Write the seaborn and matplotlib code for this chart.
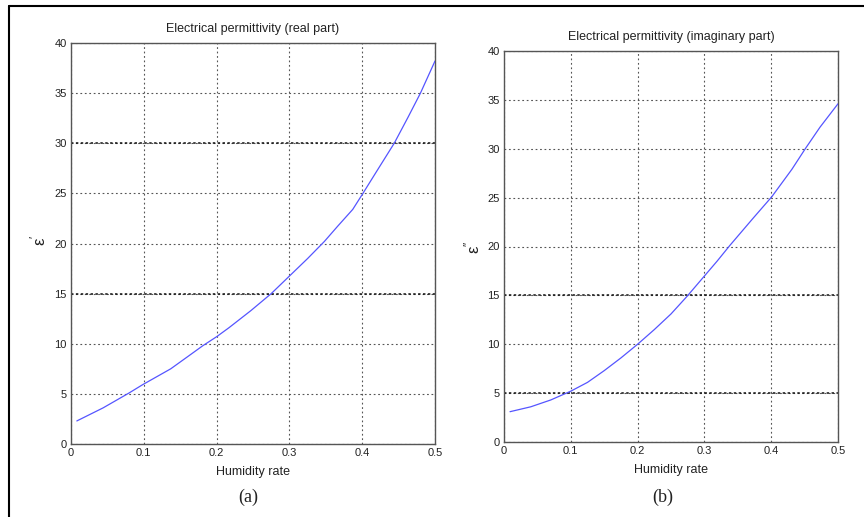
import matplotlib
matplotlib.use("Agg")
import matplotlib.pyplot as plt
import seaborn as sns
import pandas as pd
from matplotlib.lines import Line2D

# ---- data ----
real_x = [0.008, 0.044, 0.080, 0.098, 0.137, 0.160, 0.181, 0.200, 0.217, 0.247, 0.275,
          0.300, 0.325, 0.348, 0.366, 0.387, 0.401, 0.419, 0.444, 0.463, 0.480, 0.500]
real_y = [2.3, 3.6, 5.1, 5.9, 7.5, 8.7, 9.8, 10.7, 11.6, 13.3, 15.0,
          16.75, 18.5, 20.2, 21.7, 23.4, 25.0, 27.1, 30.0, 32.6, 35.0, 38.2]

imag_x = [0.009, 0.040, 0.070, 0.100, 0.125, 0.150, 0.175, 0.200, 0.225, 0.250, 0.274,
          0.299, 0.319, 0.338, 0.373, 0.401, 0.431, 0.451, 0.473, 0.500]
imag_y = [3.1, 3.6, 4.3, 5.2, 6.1, 7.3, 8.6, 10.0, 11.5, 13.1, 14.9,
          16.9, 18.5, 20.1, 22.9, 25.1, 27.9, 30.0, 32.2, 34.6]

x_ticks = [0, 0.1, 0.2, 0.3, 0.4, 0.5]
x_ticklabels = ["0", "0.1", "0.2", "0.3", "0.4", "0.5"]
y_ticks = [0, 5, 10, 15, 20, 25, 30, 35, 40]

titles = ["Electrical permittivity (real part)", "Electrical permittivity (imaginary part)"]
ylabels = [r"$\mathregular{ε^{\prime}}$", r"$\mathregular{ε^{\prime\prime}}$"]
xlabel = "Humidity rate"
panel_tags = ["(a)", "(b)"]

sns.set_theme(style="white")
plt.rcParams['font.family'] = ['Liberation Sans', 'DejaVu Sans']

W, H = 864, 517
fig = plt.figure(figsize=(W / 100, H / 100), dpi=100)

def box(x0, y0, x1, y1):
    return [x0 / W, 1 - y1 / H, (x1 - x0) / W, (y1 - y0) / H]

axes = [fig.add_axes(box(71, 43, 435, 444)), fig.add_axes(box(504, 51, 838, 442))]
datas = [pd.DataFrame({"x": real_x, "y": real_y}), pd.DataFrame({"x": imag_x, "y": imag_y})]
dark_lines = [[15, 30], [5, 15, 40]]

for ax, df, title, dark in zip(axes, datas, titles, dark_lines):
    ax.set_xlim(0, 0.5)
    ax.set_ylim(0, 40)
    ax.set_xticks(x_ticks)
    ax.set_xticklabels(x_ticklabels)
    ax.set_yticks(y_ticks)
    ax.tick_params(axis="both", labelsize=8, colors="#222222", direction="in",
                   length=3, width=0.6, pad=3)
    for s in ax.spines.values():
        s.set_color("#555555")
        s.set_linewidth(1.0)
    ax.grid(True, linestyle=(0, (1.6, 2.4)), color="#555555", linewidth=0.8)
    for v in dark:
        ax.axhline(v, color="#111111", linestyle=(0, (1.6, 1.6)), linewidth=1.1, zorder=1.5)
    sns.lineplot(data=df, x="x", y="y", ax=ax, color="#5555ff", linewidth=0.9, zorder=3)
    ax.set_title(title, fontsize=9, color="#222222", pad=8)
    ax.set_xlabel(xlabel, fontsize=9, color="#222222", labelpad=6)
    ax.set_ylabel("")

# y labels
fig.text(38 / W, 1 - 240 / H, ylabels[0], rotation=90, ha="center", va="center", fontsize=12, color="#222222")
fig.text(472 / W, 1 - 247 / H, ylabels[1], rotation=90, ha="center", va="center", fontsize=12, color="#222222")

# panel tags
fig.text(248 / W, 1 - 497 / H, panel_tags[0], ha="center", va="center", fontsize=13,
         family=["Liberation Serif", "DejaVu Serif"], color="#222222")
fig.text(663 / W, 1 - 497 / H, panel_tags[1], ha="center", va="center", fontsize=13,
         family=["Liberation Serif", "DejaVu Serif"], color="#222222")

# outer frame (top and left edges)
fig.add_artist(Line2D([9 / W, 1], [1 - 6 / H, 1 - 6 / H], color="black", linewidth=1.5, transform=fig.transFigure))
fig.add_artist(Line2D([9 / W, 9 / W], [0, 1 - 6 / H], color="black", linewidth=1.5, transform=fig.transFigure))

fig.savefig("out.png", dpi=100)
